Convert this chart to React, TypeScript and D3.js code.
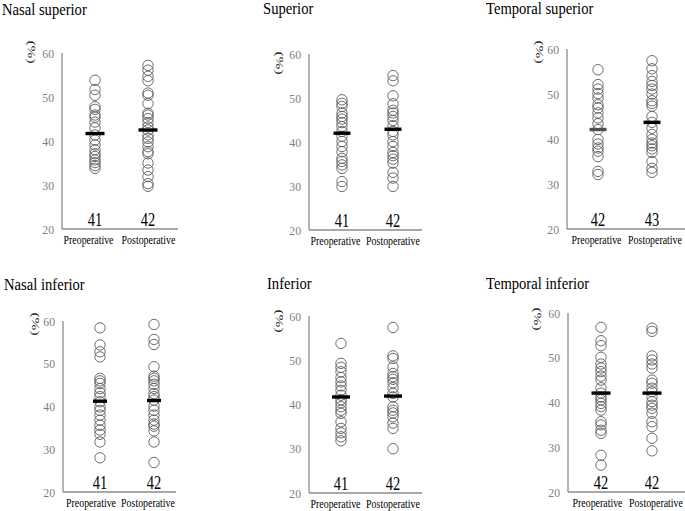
import React from "react";
import * as d3 from "d3";

const categories = ["Preoperative", "Postoperative"];
const yTickValues = [20, 30, 40, 50, 60];
const panelTitles = ["Nasal superior", "Superior", "Temporal superior", "Nasal inferior", "Inferior", "Temporal inferior"];

const nasalSuperiorPre = [53.8, 51.7, 50.4, 47.8, 47.2, 45.9, 45.4, 44.3, 43.0, 41.4, 40.2, 39.1, 38.0, 37.1, 36.5, 35.7, 35.1, 34.4, 33.8];
const nasalSuperiorPost = [57.2, 56.1, 54.7, 53.7, 50.9, 50.4, 48.5, 46.3, 45.9, 45.1, 44.2, 43.2, 42.5, 41.4, 40.6, 39.8, 38.7, 37.6, 37.1, 35.0, 33.4, 31.9, 30.3, 29.7];
const superiorPre = [49.6, 48.8, 48.1, 46.6, 45.8, 45.2, 44.4, 43.5, 42.4, 41.3, 40.1, 39.0, 37.8, 36.3, 35.6, 34.8, 34.0, 31.0, 29.9];
const superiorPost = [55.1, 53.9, 50.5, 48.7, 47.2, 46.6, 45.8, 44.9, 43.7, 42.4, 41.6, 40.1, 39.0, 37.6, 36.9, 36.1, 35.2, 33.1, 31.8, 29.9];
const temporalSuperiorPre = [55.4, 52.1, 51.1, 50.1, 49.1, 47.6, 46.9, 45.8, 44.7, 43.4, 42.1, 39.9, 38.9, 38.0, 37.3, 36.1, 32.8, 32.1];
const temporalSuperiorPost = [57.4, 55.6, 54.1, 52.8, 51.9, 51.1, 50.0, 48.5, 47.9, 47.3, 45.0, 43.7, 42.4, 41.0, 39.9, 39.1, 38.5, 37.8, 37.0, 35.0, 33.5, 32.6];
const nasalInferiorPre = [58.4, 54.4, 52.8, 51.6, 46.6, 46.0, 45.4, 44.2, 43.2, 42.3, 41.1, 39.9, 39.1, 38.0, 36.8, 35.6, 34.5, 33.5, 31.7, 28.0];
const nasalInferiorPost = [59.2, 55.7, 54.5, 49.3, 47.1, 46.6, 46.0, 45.2, 44.2, 43.0, 42.3, 41.5, 40.1, 39.1, 38.0, 36.8, 35.9, 35.4, 34.3, 31.7, 26.9];
const inferiorPre = [53.8, 49.3, 48.4, 47.4, 46.1, 45.1, 44.2, 43.2, 42.1, 41.1, 40.4, 39.5, 38.7, 38.0, 36.1, 34.6, 33.6, 32.7, 31.8];
const inferiorPost = [57.4, 51.0, 50.4, 48.5, 47.0, 46.3, 45.7, 44.9, 43.8, 42.5, 41.7, 39.5, 38.7, 38.1, 37.2, 35.8, 34.6, 30.0];
const temporalInferiorPre = [56.8, 53.8, 52.7, 50.1, 48.6, 47.7, 46.9, 45.9, 45.0, 43.3, 42.1, 41.2, 40.6, 39.8, 39.1, 38.3, 35.7, 35.0, 33.8, 33.1, 28.2, 26.0];
const temporalInferiorPost = [56.6, 55.9, 50.4, 49.5, 48.6, 47.7, 45.0, 44.3, 43.2, 42.4, 41.3, 40.2, 39.4, 38.7, 37.6, 35.7, 34.6, 32.0, 29.2];

const meanValues = [
  [41.7, 42.5],
  [42.0, 42.9],
  [42.1, 43.7],
  [41.25, 41.4],
  [41.7, 41.9],
  [42.1, 42.1],
];
const countLabels = [
  ["41", "42"],
  ["41", "42"],
  ["42", "43"],
  ["41", "42"],
  ["41", "42"],
  ["42", "42"],
];
const panelSeries = [
  [nasalSuperiorPre, nasalSuperiorPost],
  [superiorPre, superiorPost],
  [temporalSuperiorPre, temporalSuperiorPost],
  [nasalInferiorPre, nasalInferiorPost],
  [inferiorPre, inferiorPost],
  [temporalInferiorPre, temporalInferiorPost],
];

// layout (positions only)
const layouts = [
  { ax: 62, y60: 53, y20: 229, xEnd: 178, pre: 95, post: 148, tx: 2, ty: 15, px: 32, py: 52, bw: 19, lp: 26.5, lq: 86.5 },
  { ax: 309, y60: 54, y20: 230, xEnd: 422, pre: 342, post: 393, tx: 263, ty: 14, px: 280, py: 63, bw: 17, lp: 26.5, lq: 84 },
  { ax: 567, y60: 49, y20: 229, xEnd: 685, pre: 598, post: 652, tx: 486, ty: 14, px: 540, py: 52, bw: 17, lp: 29.5, lq: 88 },
  { ax: 63, y60: 321, y20: 492, xEnd: 176, pre: 100, post: 154, tx: 4, ty: 290, px: 36, py: 324, bw: 14, lp: 28, lq: 85 },
  { ax: 309, y60: 316, y20: 493, xEnd: 422, pre: 341, post: 393, tx: 267, ty: 289, px: 280, py: 321, bw: 18, lp: 26.5, lq: 84 },
  { ax: 568, y60: 313, y20: 492, xEnd: 685, pre: 601, post: 652, tx: 486, ty: 289, px: 538, py: 319, bw: 19, lp: 29.5, lq: 88 },
];

const FONT = "'Liberation Serif', 'Times New Roman', serif";

function SText({ x, y, sx = 1, sy = 1, size, fill = "#000", anchor = "start", children, rotate = 0, baseline }: any) {
  return (
    <text
      transform={`translate(${x},${y}) rotate(${rotate}) scale(${sx},${sy})`}
      fontFamily={FONT}
      fontSize={size}
      fill={fill}
      textAnchor={anchor}
      dominantBaseline={baseline}
    >
      {children}
    </text>
  );
}

function Panel({ idx }: { idx: number }) {
  const L = layouts[idx];
  const y = d3.scaleLinear().domain([20, 60]).range([L.y20, L.y60]);
  const x = d3.scalePoint<string>().domain(categories).range([L.pre, L.post]);
  const series = panelSeries[idx];
  return (
    <g>
      <SText x={L.tx} y={L.ty} sx={0.86} size={17}>{panelTitles[idx]}</SText>
      <SText x={L.px} y={L.py} size={15.5} sy={0.72} rotate={90} anchor="middle" baseline="central" fill="#222">(%)</SText>
      <line x1={L.ax} x2={L.ax} y1={y(60)} y2={y(20)} stroke="#8c8c8c" strokeWidth={1.3} />
      <line x1={L.ax} x2={L.xEnd} y1={y(20)} y2={y(20)} stroke="#8c8c8c" strokeWidth={1.3} />
      {yTickValues.map((t) => (
        <SText key={t} x={L.ax - 8} y={y(t) + 4.5} sx={0.87} size={13.5} fill="#7f7f7f" anchor="end">
          {t}
        </SText>
      ))}
      {categories.map((c, ci) => (
        <g key={c}>
          {series[ci].map((v, i) => (
            <circle key={i} cx={x(c)} cy={y(v)} r={5.2} fill="none" stroke="#5f5f5f" strokeWidth={0.9} />
          ))}
          <rect
            x={(x(c) as number) - L.bw / 2}
            y={y(meanValues[idx][ci]) - 1.7}
            width={L.bw}
            height={3.4}
            fill={idx === 2 && ci === 0 ? "#505050" : "#000"}
          />
          <SText x={x(c)} y={y(20) - 3.5} sx={0.78} size={18.5} anchor="middle">
            {countLabels[idx][ci]}
          </SText>
          <SText x={L.ax + (ci === 0 ? L.lp : L.lq)} y={y(20) + 15} sx={0.86} size={11.5} anchor="middle">
            {c}
          </SText>
        </g>
      ))}
    </g>
  );
}

export default function App() {
  return (
    <svg width={685} height={511} style={{ position: "absolute", left: 0, top: 0, background: "#fff" }}>
      <rect width={685} height={511} fill="#fff" />
      {panelTitles.map((_, i) => (
        <Panel key={i} idx={i} />
      ))}
    </svg>
  );
}
